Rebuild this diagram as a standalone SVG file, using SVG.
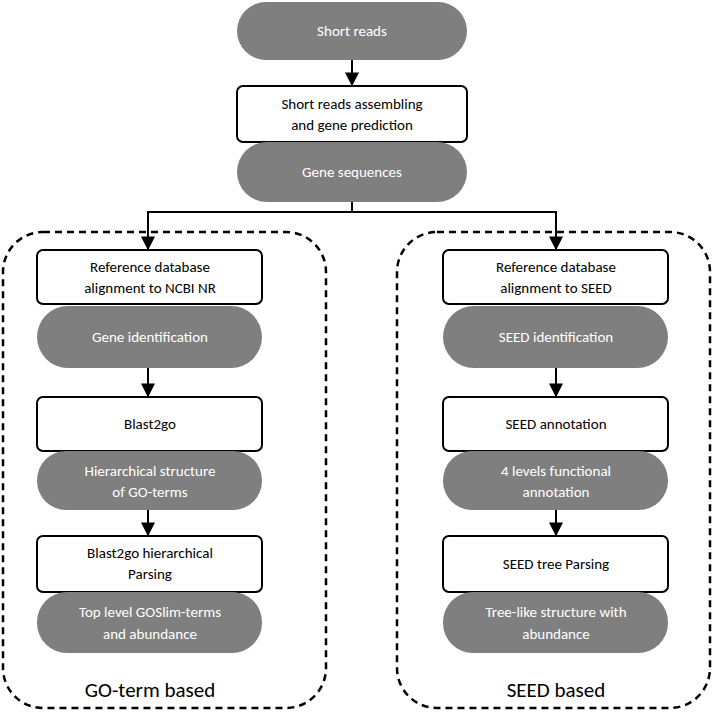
<svg xmlns="http://www.w3.org/2000/svg" width="721" height="713" viewBox="0 0 721 713">
<defs>
<marker id="ah" viewBox="0 0 10 10" refX="9" refY="5" markerWidth="7" markerHeight="7" orient="auto"><path d="M0,0 L10,5 L0,10 z" fill="#000"/></marker>
<style>
.pill{fill:#7f7f7f;}
.box{fill:#fff;stroke:#000;stroke-width:2;}
.dash{fill:none;stroke:#000;stroke-width:2.5;stroke-dasharray:7,5;}
.pt{font-family:Calibri,"Liberation Sans",sans-serif;font-size:15px;fill:#fff;text-anchor:middle;}
.bt{font-family:Calibri,"Liberation Sans",sans-serif;font-size:15px;fill:#000;text-anchor:middle;}
.lt{font-family:Calibri,"Liberation Sans",sans-serif;font-size:21px;fill:#000;text-anchor:middle;}
.c{fill:none;stroke:#000;stroke-width:2;}
</style>
</defs>
<rect width="721" height="713" fill="#fff"/>
<g id="containers">
<rect class="dash" x="3" y="232" width="323" height="476" rx="40"/>
<rect class="dash" x="397" y="232" width="313" height="476" rx="40"/>
<text class="lt" x="150" y="697">GO-term based</text>
<text class="lt" x="556" y="697">SEED based</text>
</g>
<g id="n1"><rect class="pill" x="237" y="2" width="230" height="58" rx="29"/><text class="pt" x="352" y="36">Short reads</text></g>
<g id="n2"><rect class="box" x="237" y="86" width="230" height="56" rx="6"/><text class="bt" x="352" y="109">Short reads assembling</text><text class="bt" x="352" y="130">and gene prediction</text></g>
<g id="n3"><rect class="pill" x="237" y="142" width="230" height="60" rx="30"/><text class="pt" x="352" y="177">Gene sequences</text></g>
<g id="l1"><rect class="box" x="37" y="250" width="225" height="54" rx="6"/><text class="bt" x="150" y="272">Reference database</text><text class="bt" x="150" y="293">alignment to NCBI NR</text></g>
<g id="l2"><rect class="pill" x="37" y="306" width="225" height="62" rx="31"/><text class="pt" x="150" y="342">Gene identification</text></g>
<g id="l3"><rect class="box" x="37" y="397" width="225" height="54" rx="6"/><text class="bt" x="150" y="429">Blast2go</text></g>
<g id="l4"><rect class="pill" x="37" y="451" width="225" height="59" rx="29"/><text class="pt" x="150" y="476">Hierarchical structure</text><text class="pt" x="150" y="497">of GO-terms</text></g>
<g id="l5"><rect class="box" x="37" y="536" width="225" height="56" rx="6"/><text class="bt" x="150" y="558">Blast2go hierarchical</text><text class="bt" x="150" y="579">Parsing</text></g>
<g id="l6"><rect class="pill" x="37" y="592" width="225" height="61" rx="30"/><text class="pt" x="150" y="617">Top level GOSlim-terms</text><text class="pt" x="150" y="639">and abundance</text></g>
<g id="r1"><rect class="box" x="443" y="250" width="225" height="54" rx="6"/><text class="bt" x="556" y="272">Reference database</text><text class="bt" x="556" y="293">alignment to SEED</text></g>
<g id="r2"><rect class="pill" x="443" y="306" width="225" height="62" rx="31"/><text class="pt" x="556" y="342">SEED identification</text></g>
<g id="r3"><rect class="box" x="443" y="397" width="225" height="54" rx="6"/><text class="bt" x="556" y="429">SEED annotation</text></g>
<g id="r4"><rect class="pill" x="443" y="451" width="225" height="59" rx="29"/><text class="pt" x="556" y="476">4 levels functional</text><text class="pt" x="556" y="497">annotation</text></g>
<g id="r5"><rect class="box" x="443" y="536" width="225" height="56" rx="6"/><text class="bt" x="556" y="569">SEED tree Parsing</text></g>
<g id="r6"><rect class="pill" x="443" y="592" width="225" height="61" rx="30"/><text class="pt" x="556" y="617">Tree-like structure with</text><text class="pt" x="556" y="639">abundance</text></g>
<g id="connectors">
<line class="c" x1="352" y1="60" x2="352" y2="85" marker-end="url(#ah)"/>
<polyline class="c" points="352,202 352,212 148,212 148,249" marker-end="url(#ah)"/>
<polyline class="c" points="352,212 556,212 556,249" marker-end="url(#ah)"/>
<line class="c" x1="148" y1="368" x2="148" y2="396" marker-end="url(#ah)"/>
<line class="c" x1="148" y1="510" x2="148" y2="535" marker-end="url(#ah)"/>
<line class="c" x1="556" y1="368" x2="556" y2="396" marker-end="url(#ah)"/>
<line class="c" x1="556" y1="510" x2="556" y2="535" marker-end="url(#ah)"/>
</g>
</svg>
